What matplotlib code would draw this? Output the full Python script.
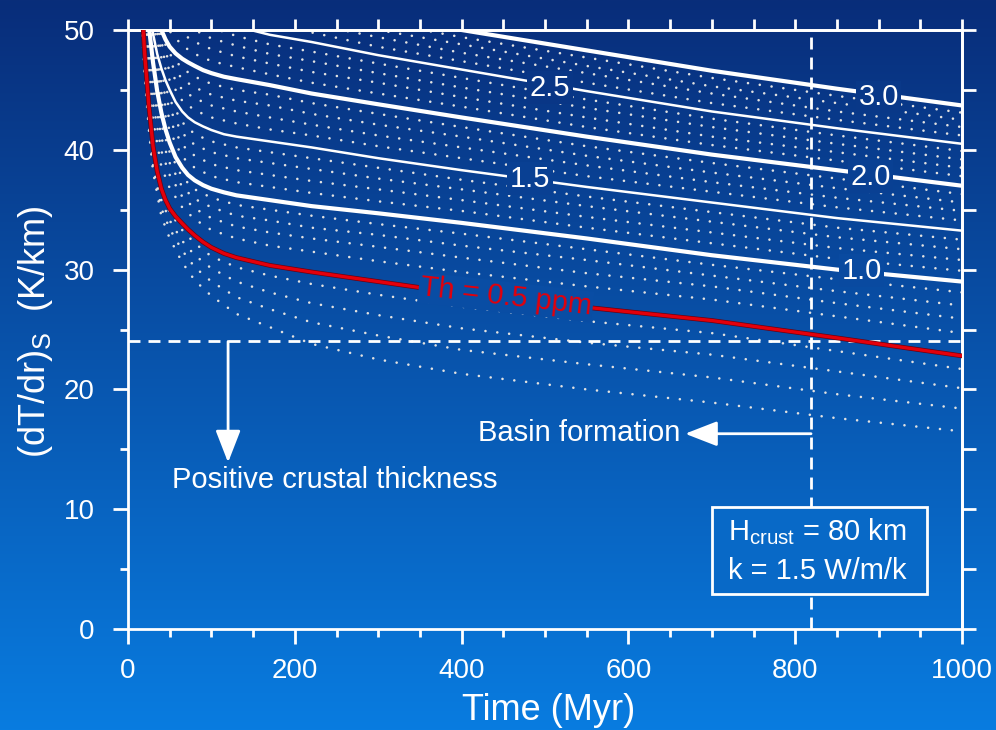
import numpy as np
import matplotlib
matplotlib.use("Agg")
import matplotlib.pyplot as plt
import matplotlib.patheffects as pe
from matplotlib.ticker import MultipleLocator, NullFormatter
from matplotlib.patches import Rectangle

plt.rcParams['font.family'] = ['Liberation Sans', 'DejaVu Sans']
plt.rcParams['mathtext.fontset'] = 'custom'
plt.rcParams['mathtext.rm'] = 'Liberation Sans'
plt.rcParams['mathtext.it'] = 'Liberation Sans:italic'

# times (Myr) at which the labelled curves were read
t_solid = [15, 20, 25, 30, 35, 40, 45, 50, 57, 65, 72, 80, 90, 100, 115, 130,
           170, 220, 300, 400, 550, 700, 850, 1000]

# labelled curves: surface gradient (dT/dr)_S in K/km, Th content in ppm
th_05 = [54, 48, 43.7, 40.3, 38.2, 36.75, 35.8, 35.1, 34.45, 33.85, 33.35, 32.85, 32.3, 31.85,
         31.35, 31.0, 30.35, 29.8, 29.0, 28.0, 26.85, 25.75, 24.3, 22.8]
th_10 = [60, 54.5, 50.3, 47.3, 44.9, 43.1, 41.7, 40.6, 39.4, 38.5, 37.9, 37.45, 37.05, 36.75,
         36.45, 36.2, 35.8, 35.3, 34.7, 33.9, 32.6, 31.2, 30.0, 29.0]
th_15 = [62, 56, 52.5, 49.7, 48.0, 46.8, 45.8, 45.0, 44.0, 43.2, 42.7, 42.3, 41.95, 41.65,
         41.3, 41.1, 40.7, 40.2, 39.3, 38.3, 36.9, 35.6, 34.3, 33.25]
th_20 = [68, 61, 56, 53, 51.3, 50.0, 49.2, 48.6, 48.05, 47.6, 47.3, 47.0, 46.65, 46.4,
         46.1, 45.9, 45.4, 44.7, 43.8, 42.7, 41.1, 39.6, 38.3, 37.0]
th_25 = [75, 68, 63, 60, 57.8, 56, 54.9, 54, 53.2, 52.5, 52.1, 51.7, 51.3, 51.0,
         50.6, 50.3, 49.6, 49.0, 47.9, 46.7, 44.9, 43.2, 41.8, 40.5]
th_30 = [80, 73, 68, 65, 62.8, 61, 59.9, 59, 58.2, 57.5, 57.0, 56.5, 56.0, 55.5,
         55.0, 54.5, 53.5, 52.5, 51.3, 50.0, 48.3, 46.6, 45.1, 43.7]

# times (Myr) at which the dotted curves were read
t_dotted = [15, 20, 25, 30, 40, 50, 65, 80, 100, 130, 170, 220, 300, 400, 550, 700, 850, 1000]

# dotted curves (steps of 0.1 ppm) between the labelled ones
dotted_01_04 = [
    [52.5, 46.2, 41.7, 38.2, 34.45, 32.6, 30.6, 29.1, 27.8, 26.3, 25.2, 23.8, 22.5, 21.3, 20.0, 18.9, 17.6, 16.5],
    [53.0, 46.7, 42.3, 38.8, 35.1, 33.4, 31.6, 30.2, 29.0, 27.7, 26.7, 25.6, 24.5, 23.3, 22.1, 21.0, 19.6, 18.4],
    [53.4, 47.2, 42.8, 39.4, 35.8, 34.1, 32.4, 31.2, 30.1, 29.0, 28.1, 27.2, 26.2, 25.1, 23.9, 22.9, 21.5, 20.1],
    [53.7, 47.7, 43.4, 40.0, 36.4, 34.8, 33.3, 32.2, 31.1, 30.2, 29.5, 28.8, 27.9, 26.9, 25.7, 24.7, 23.2, 21.7],
]
dotted_06_09 = [
    [55.8, 50.1, 45.7, 42.5, 38.6, 36.8, 35.2, 34.2, 33.3, 32.6, 32.0, 31.5, 30.7, 29.8, 28.6, 27.5, 26.1, 24.7],
    [57.0, 51.5, 47.1, 43.9, 39.9, 37.9, 36.1, 35.1, 34.3, 33.6, 33.1, 32.6, 31.9, 31.0, 29.7, 28.6, 27.2, 25.9],
    [58.0, 52.8, 48.3, 45.2, 41.0, 38.9, 36.9, 35.9, 35.2, 34.5, 34.1, 33.5, 32.9, 32.0, 30.8, 29.5, 28.2, 27.0],
    [59.0, 54.0, 49.5, 46.4, 42.1, 39.8, 37.7, 36.7, 36.0, 35.4, 35.0, 34.5, 33.8, 33.0, 31.7, 30.4, 29.2, 28.1],
]
dotted_11_14 = [
    [60.4, 54.8, 50.8, 48.0, 44.0, 41.6, 39.4, 38.5, 37.8, 37.3, 36.9, 36.4, 35.7, 34.9, 33.5, 32.2, 30.9, 29.9],
    [60.9, 55.1, 51.2, 48.4, 44.8, 42.5, 40.4, 39.5, 38.8, 38.3, 37.9, 37.4, 36.7, 35.8, 34.4, 33.1, 31.8, 30.8],
    [61.3, 55.4, 51.7, 48.9, 45.6, 43.4, 41.4, 40.4, 39.8, 39.3, 38.9, 38.4, 37.6, 36.7, 35.3, 34.0, 32.7, 31.7],
    [61.6, 55.7, 52.1, 49.3, 46.3, 44.2, 42.3, 41.3, 40.7, 40.2, 39.8, 39.3, 38.5, 37.5, 36.1, 34.8, 33.5, 32.5],
]
dotted_16_19 = [
    [63.3, 57.1, 53.3, 50.4, 47.7, 45.8, 44.1, 43.3, 42.7, 42.2, 41.7, 41.2, 40.3, 39.3, 37.8, 36.5, 35.2, 34.1],
    [64.6, 58.2, 54.0, 51.1, 48.3, 46.6, 45.0, 44.3, 43.7, 43.2, 42.7, 42.1, 41.2, 40.2, 38.7, 37.3, 36.0, 34.9],
    [65.8, 59.2, 54.7, 51.8, 48.9, 47.3, 45.9, 45.2, 44.6, 44.1, 43.7, 43.0, 42.1, 41.1, 39.5, 38.1, 36.8, 35.6],
    [66.9, 60.1, 55.4, 52.4, 49.5, 48.0, 46.8, 46.1, 45.5, 45.0, 44.6, 43.9, 43.0, 41.9, 40.3, 38.9, 37.6, 36.3],
]
dotted_21_24 = [
    [69.5, 62.5, 57.5, 54.5, 51.3, 49.9, 48.7, 48.0, 47.4, 46.9, 46.3, 45.6, 44.7, 43.6, 41.9, 40.4, 39.1, 37.8],
    [71.0, 64.0, 59.0, 56.0, 52.6, 51.0, 49.7, 49.0, 48.4, 47.8, 47.2, 46.5, 45.6, 44.4, 42.7, 41.1, 39.8, 38.5],
    [72.4, 65.4, 60.4, 57.4, 53.8, 52.0, 50.7, 50.0, 49.3, 48.7, 48.0, 47.4, 46.4, 45.2, 43.5, 41.9, 40.5, 39.2],
    [73.7, 66.7, 61.7, 58.7, 54.9, 53.0, 51.6, 50.9, 50.2, 49.5, 48.8, 48.2, 47.2, 46.0, 44.2, 42.6, 41.2, 39.9],
]
dotted_26_29 = [
    [76.1, 69.1, 64.1, 61.1, 57.1, 55.1, 53.6, 52.8, 52.0, 51.2, 50.5, 49.8, 48.6, 47.4, 45.6, 43.9, 42.5, 41.2],
    [77.2, 70.2, 65.2, 62.2, 58.2, 56.2, 54.7, 53.8, 52.9, 52.1, 51.3, 50.5, 49.4, 48.1, 46.4, 44.7, 43.2, 41.9],
    [78.2, 71.2, 66.2, 63.2, 59.2, 57.2, 55.7, 54.7, 53.8, 52.9, 52.1, 51.2, 50.0, 48.8, 47.0, 45.3, 43.9, 42.5],
    [79.1, 72.1, 67.1, 64.1, 60.1, 58.1, 56.6, 55.6, 54.7, 53.7, 52.8, 51.9, 50.7, 49.4, 47.7, 46.0, 44.5, 43.1],
]

# curve labels: text, time, gradient
line_labels = [("3.0", 900, 44.4), ("2.5", 506, 45.2), ("2.0", 890, 37.75),
               ("1.5", 482, 37.6), ("1.0", 880, 29.9)]
th_label = ("Th = 0.5 ppm", 453, 27.7)

basin_time = 819       # Myr, vertical dashed line
crust_limit = 24       # K/km, horizontal dashed line

W, H = 996, 730
c_top = np.array([9, 45, 122]) / 255
c_bot = np.array([8, 124, 224]) / 255

fig = plt.figure(figsize=(W / 100, H / 100), dpi=100)

# background gradient
bg = fig.add_axes([0, 0, 1, 1], zorder=-1)
s = np.linspace(0, 1, 512)
grad = c_top[None, :] + (c_bot - c_top)[None, :] * s[:, None]
bg.imshow(grad[:, None, :], aspect='auto', extent=(0, 1, 0, 1), origin='upper')
bg.set_axis_off()

ax = fig.add_axes([128 / W, 1 - 629 / H, (962 - 128) / W, (629 - 30) / H])
ax.patch.set_alpha(0)
ax.set_xlim(0, 1000)
ax.set_ylim(0, 50)


def bg_at(t, v):
    # background colour under a data point
    y = ax.transData.transform((t, v))[1]
    f = min(max(1 - y / H, 0), 1)
    return tuple(c_top + (c_bot - c_top) * f)


# dotted family
for band in [dotted_01_04, dotted_06_09, dotted_11_14, dotted_16_19, dotted_21_24, dotted_26_29]:
    for vals in band:
        ax.plot(t_dotted, vals, color='#e2e2e2', lw=1.9, linestyle=(0, (0.01, 4.5)),
                dash_capstyle='round', zorder=2)

# labelled white curves
for vals, lw in [(th_10, 3.0), (th_15, 1.8), (th_20, 3.0), (th_25, 1.8), (th_30, 3.0)]:
    ax.plot(t_solid, vals, color='white', lw=lw, solid_joinstyle='round', zorder=3)

# Th = 0.5 ppm in red
ax.plot(t_solid, th_05, color='#e3000b', lw=2.4, solid_joinstyle='round', zorder=4,
        path_effects=[pe.Stroke(linewidth=3.4, foreground='#6a0010'), pe.Normal()])

# dashed guides
ax.axhline(crust_limit, color='white', lw=2, dashes=(4.3, 2.9), zorder=3)
ax.axvline(basin_time, color='white', lw=2, dashes=(4.3, 2.9), zorder=3)

# labels on the curves
for txt, t, v in line_labels:
    ax.text(t, v, txt, color='white', fontsize=21, ha='center', va='center', zorder=6,
            bbox=dict(boxstyle='square,pad=0.08', fc=bg_at(t, v), ec='none'))
ax.text(th_label[1], th_label[2], th_label[0], color='#e3000b', fontsize=21,
        ha='center', va='center', rotation=-6.5, rotation_mode='anchor', zorder=6,
        bbox=dict(boxstyle='square,pad=0.05', fc=bg_at(th_label[1], th_label[2]), ec='none'))

# arrows and annotations
ax.annotate('', xy=(120, 13.9), xytext=(120, crust_limit),
            arrowprops=dict(arrowstyle='-|>,head_length=0.9,head_width=0.35', color='white',
                            lw=2, mutation_scale=22, shrinkA=0, shrinkB=0), zorder=5)
ax.text(53, 12.4, 'Positive crustal thickness', color='white', fontsize=21,
        ha='left', va='center', zorder=6)
ax.annotate('', xy=(668, 16.3), xytext=(basin_time, 16.3),
            arrowprops=dict(arrowstyle='-|>,head_length=0.9,head_width=0.35', color='white',
                            lw=2, mutation_scale=22, shrinkA=0, shrinkB=0), zorder=5)
ax.text(420, 16.4, 'Basin formation', color='white', fontsize=21,
        ha='left', va='center', zorder=6)

# parameter box
ax.add_patch(Rectangle((700, 2.92), 258, 7.25, fc=bg_at(830, 6.5), ec='white', lw=2, zorder=5))
ax.text(720, 8.1, r'H$_{\mathrm{crust}}$ = 80 km', color='white', fontsize=21,
        ha='left', va='center', zorder=6)
ax.text(720, 4.8, 'k = 1.5 W/m/k', color='white', fontsize=21,
        ha='left', va='center', zorder=6)

# axes styling
for sp in ax.spines.values():
    sp.set_color('white')
    sp.set_linewidth(2)
ax.xaxis.set_major_locator(MultipleLocator(200))
ax.xaxis.set_minor_locator(MultipleLocator(50))
ax.yaxis.set_major_locator(MultipleLocator(10))
ax.yaxis.set_minor_locator(MultipleLocator(5))
ax.tick_params(which='major', direction='out', length=11, width=2, colors='white', labelsize=20)
ax.tick_params(which='minor', direction='out', length=6, width=2, colors='white')
ax.tick_params(axis='x', which='major', pad=10)
ax.tick_params(axis='y', which='major', pad=13)

secx = ax.secondary_xaxis('top')
secx.xaxis.set_major_locator(MultipleLocator(50))
secx.xaxis.set_major_formatter(NullFormatter())
secx.tick_params(direction='out', length=8, width=2, colors='white')
secx.spines['top'].set_color('white')
secx.spines['top'].set_linewidth(2)

secy = ax.secondary_yaxis('right')
secy.yaxis.set_major_locator(MultipleLocator(5))
secy.yaxis.set_major_formatter(NullFormatter())
secy.tick_params(direction='out', length=10, width=2, colors='white')
secy.spines['right'].set_color('white')
secy.spines['right'].set_linewidth(2)

fig.text(549 / W, 1 - 711 / H, 'Time (Myr)', color='white', fontsize=26, ha='center', va='center')
fig.text(36 / W, 1 - 332 / H, r'(dT/dr)$_{\mathrm{S}}$  (K/km)', color='white', fontsize=26,
         ha='center', va='center', rotation=90)

fig.savefig('out.png', dpi=100)
